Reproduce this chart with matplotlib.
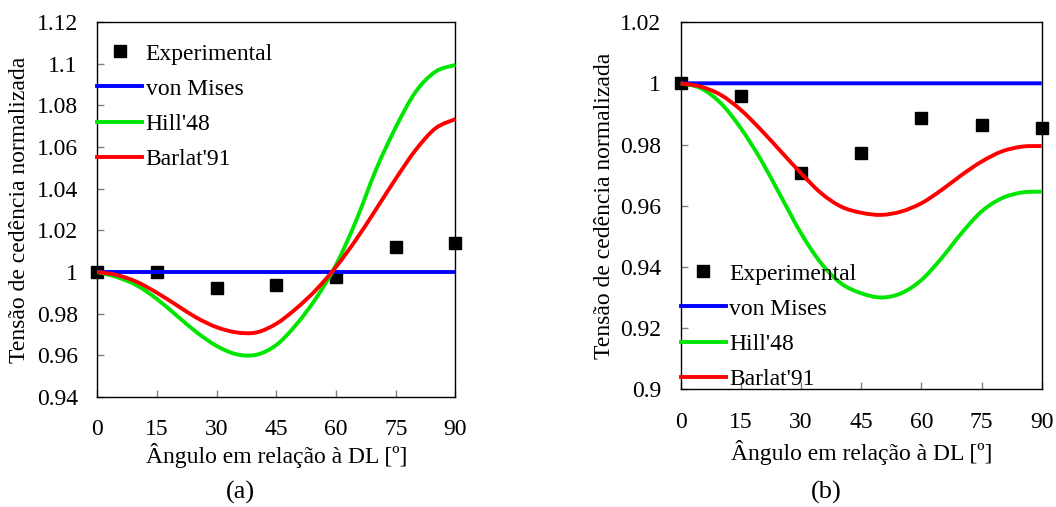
import matplotlib
matplotlib.use("Agg")
import matplotlib.pyplot as plt
from matplotlib.path import Path
from matplotlib.patches import PathPatch
from matplotlib.lines import Line2D

plt.rcParams['font.family'] = ['Liberation Serif', 'DejaVu Serif']
plt.rcParams['font.size'] = 17

# ---------------- data ----------------
angles = [0, 5, 10, 15, 20, 25, 30, 35, 40, 45, 50, 55, 60, 65, 70, 75, 80, 85, 90]
exp_angles = [0, 15, 30, 45, 60, 75, 90]

# (a)
exp_a = [1.0, 1.0, 0.9922, 0.9937, 0.9978, 1.0118, 1.0138]
vm_a = [1.0] * len(angles)
hill_a = [1.0, 0.9975, 0.9935, 0.987, 0.979, 0.971, 0.9645, 0.9605, 0.9603, 0.9650,
          0.9748, 0.9875, 1.0035, 1.0245, 1.0490, 1.0695, 1.0865, 1.0962, 1.0994]
barlat_a = [1.0, 0.9985, 0.9952, 0.990, 0.984, 0.978, 0.9735, 0.971, 0.971, 0.9752,
            0.9825, 0.9915, 1.0025, 1.0155, 1.0300, 1.0448, 1.0586, 1.069, 1.0734]

# (b)
exp_b = [1.0, 0.9957, 0.9706, 0.9771, 0.9886, 0.9863, 0.9853]
vm_b = [1.0] * len(angles)
hill_b = [1.0, 0.9984, 0.9935, 0.9853, 0.975, 0.963, 0.951, 0.9412, 0.9346, 0.9314,
          0.930, 0.9314, 0.9357, 0.9428, 0.951, 0.9581, 0.9624, 0.9643, 0.9646]
barlat_b = [1.0, 0.9989, 0.9962, 0.9913, 0.9848, 0.9777, 0.9706, 0.9641, 0.9597, 0.9577,
            0.957, 0.9581, 0.9608, 0.9651, 0.970, 0.9744, 0.9777, 0.9793, 0.9795]

xticks = [0, 15, 30, 45, 60, 75, 90]
yticks_a = [0.94, 0.96, 0.98, 1.0, 1.02, 1.04, 1.06, 1.08, 1.1, 1.12]
yticklabels_a = ['0.94', '0.96', '0.98', '1', '1.02', '1.04', '1.06', '1.08', '1.1', '1.12']
yticks_b = [0.9, 0.92, 0.94, 0.96, 0.98, 1.0, 1.02]
yticklabels_b = ['0.9', '0.92', '0.94', '0.96', '0.98', '1', '1.02']

labels = ['Experimental', 'von Mises', "Hill'48", "Barlat'91"]
xlabel = 'Ângulo em relação à DL [º]'
ylabel = 'Tensão de cedência normalizada'

# ---------------- figure ----------------
W, H = 1056, 507
fig = plt.figure(figsize=(W / 100, H / 100), dpi=100)

ax_a = fig.add_axes([97.3 / W, (H - 397) / H, 358.2 / W, 375 / H])
ax_b = fig.add_axes([680.7 / W, (H - 389.3) / H, 361 / W, 367.2 / H])

BLUE = '#0000ff'
GREEN = '#00e600'
RED = '#ff0000'
LW = 2.8


def smooth_line(ax, xs, ys, color):
    """Draw a smoothed (Excel-style) line through the given points with Bezier segments."""
    n = len(xs)
    verts = [(xs[0], ys[0])]
    codes = [Path.MOVETO]
    for i in range(n - 1):
        x0, y0 = (xs[i - 1], ys[i - 1]) if i > 0 else (xs[i], ys[i])
        x1, y1 = xs[i], ys[i]
        x2, y2 = xs[i + 1], ys[i + 1]
        x3, y3 = (xs[i + 2], ys[i + 2]) if i + 2 < n else (xs[i + 1], ys[i + 1])
        c1 = (x1 + (x2 - x0) / 6.0, y1 + (y2 - y0) / 6.0)
        c2 = (x2 - (x3 - x1) / 6.0, y2 - (y3 - y1) / 6.0)
        verts += [c1, c2, (x2, y2)]
        codes += [Path.CURVE4] * 3
    patch = PathPatch(Path(verts, codes), facecolor='none', edgecolor=color, lw=LW,
                      zorder=3, clip_on=False, capstyle='butt', joinstyle='round')
    ax.add_patch(patch)
    return Line2D([], [], color=color, lw=LW)


def draw(ax, exp, vm, hill, barlat, yticks, yticklabels, ylim, leg_anchor):
    h0, = ax.plot(exp_angles, exp, 's', color='black', markersize=8, zorder=2,
                  clip_on=False, linestyle='none')
    h1 = smooth_line(ax, angles, vm, BLUE)
    h2 = smooth_line(ax, angles, hill, GREEN)
    h3 = smooth_line(ax, angles, barlat, RED)
    ax.set_xlim(0, 90)
    ax.set_ylim(*ylim)
    ax.set_xticks(xticks)
    ax.set_xticklabels([str(t) for t in xticks])
    ax.set_yticks(yticks)
    ax.set_yticklabels(yticklabels)
    ax.tick_params(axis='both', direction='in', length=5, width=1, color='#808080',
                   labelsize=17, top=False, right=False)
    ax.tick_params(axis='y', pad=14)
    ax.tick_params(axis='x', pad=16)
    for s in ax.spines.values():
        s.set_linewidth(1.0)
        s.set_color('black')
    ax.legend([h0, h1, h2, h3], labels, loc='upper left',
              bbox_to_anchor=leg_anchor, frameon=False, borderpad=0,
              borderaxespad=0, handlelength=1.9, handletextpad=0.15,
              labelspacing=0.58, fontsize=17)
    return ax


draw(ax_a, exp_a, vm_a, hill_a, barlat_a, yticks_a, yticklabels_a, (0.94, 1.12), (0.0, 0.944))
draw(ax_b, exp_b, vm_b, hill_b, barlat_b, yticks_b, yticklabels_b, (0.9, 1.02), (0.0, 0.344))

for ax, ylx, xly in [(ax_a, -0.216, -0.157), (ax_b, -0.21, -0.172)]:
    ax.set_xlabel(xlabel, fontsize=17)
    ax.set_ylabel(ylabel, fontsize=17)
    ax.yaxis.set_label_coords(ylx, 0.5)
    ax.xaxis.set_label_coords(0.5, xly)
    ax.xaxis.label.set_verticalalignment('center')
    ax.yaxis.label.set_verticalalignment('center')

fig.text(240 / W, 1 - 492 / H, '(a)', ha='center', va='center', fontsize=19)
fig.text(826 / W, 1 - 492 / H, '(b)', ha='center', va='center', fontsize=19)

fig.savefig('out.png', dpi=100)
